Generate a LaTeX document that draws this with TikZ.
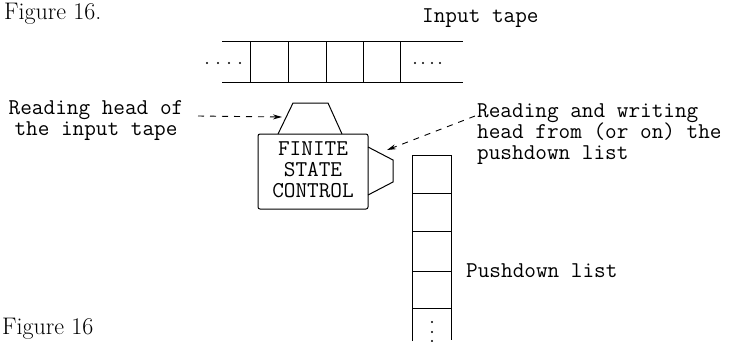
\documentclass[tikz,border=0pt]{standalone}
\usetikzlibrary{arrows.meta}
\begin{document}
\begin{tikzpicture}[x=1pt,y=-1pt,
  tw/.style={font=\fontsize{22.6}{21}\selectfont\ttfamily, inner sep=0pt},
  figcaption/.style={font=\fontsize{24}{24}\selectfont\rmfamily, inner sep=0pt},
  ln/.style={line width=1pt},
  lead/.style={line width=0.9pt, dash pattern=on 6pt off 6pt, -{Stealth[length=9pt,width=5pt]}},
  dotmark/.style={circle, fill, inner sep=0pt, minimum size=2.4pt}]
\useasboundingbox (0,0) rectangle (735,341);
\clip (0,0) rectangle (735,341);
% captions
\node[figcaption, anchor=base west] (figtop) at (4,19) {Figure 16.};
\node[figcaption, anchor=base west] (figbot) at (2,334) {Figure 16};
% input tape
\draw[ln] (222,41) -- (463,41);
\draw[ln] (222,82) -- (463,82);
\foreach \x in {250,288,326,363,400} \draw[ln] (\x,41) -- (\x,82);
\foreach \x in {207,218,229,240} \node[dotmark] at (\x,63) {};
\foreach \x in {415,423,432,440} \node[dotmark] at (\x,63) {};
\node[tw, anchor=base west] (intape) at (422,22) {Input tape};
% finite state control
\node[draw, ln, rounded corners=2pt, minimum width=110pt, minimum height=75pt, inner sep=0pt] (fsc) at (313,171.5) {};
\node[tw, align=center] (fsctext) at (313,169.5) {FINITE\\STATE\\CONTROL};
\draw[ln] (278,134) -- (293,103) -- (328,103) -- (342,134);
\draw[ln] (368,147) -- (393,160) -- (393,182) -- (368,195);
% pushdown list
\draw[ln] (412,341) -- (412,155) -- (451,155) -- (451,340);
\foreach \y in {193,231,271,308} \draw[ln] (412,\y) -- (451,\y);
\foreach \y in {322,332,341} \node[dotmark] at (432,\y) {};
\node[tw, anchor=base west] (pdl) at (466,277) {Pushdown list};
% labels (base anchor = baseline of the last line)
\node[tw, align=center, anchor=base] (lhead) at (96,135) {Reading head of\\the input tape};
\node[tw, align=left, anchor=base west] (rhead) at (477,159) {Reading and writing\\head from (or on) the\\pushdown list};
\coordinate (ls) at (198,116);
\coordinate (lt) at (282,117);
\coordinate (rs) at (475,116);
\coordinate (rt) at (387,150);
\draw[lead] (ls) -- (lt);
\draw[lead] (rs) -- (rt);
\end{tikzpicture}
\end{document}
